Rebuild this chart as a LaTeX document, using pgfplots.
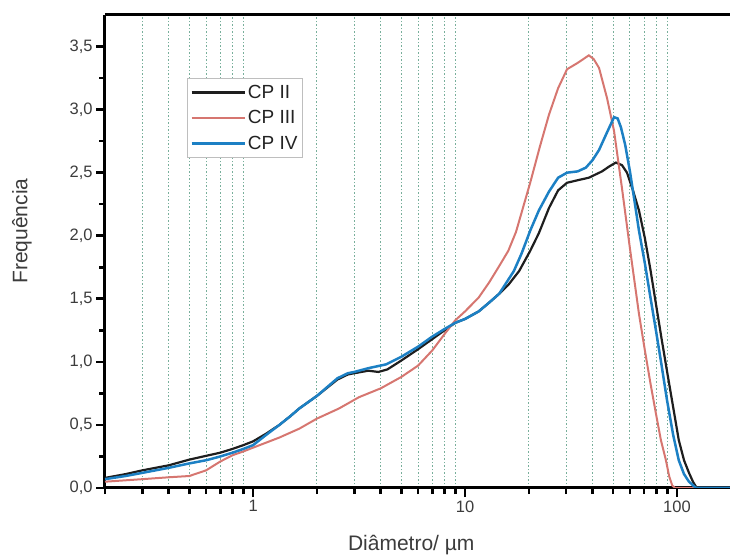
\documentclass[border=0pt]{standalone}
\usepackage{fontspec}
\setmainfont{Liberation Sans}
\usepackage{pgfplots}
\pgfplotsset{compat=1.18}

\definecolor{cpii}{RGB}{30,30,30}
\definecolor{cpiii}{RGB}{214,118,112}
\definecolor{cpiv}{RGB}{28,128,196}
\definecolor{gridgreen}{RGB}{120,175,155}
\definecolor{labelgray}{RGB}{60,60,60}
\definecolor{legendtext}{RGB}{35,35,35}
\definecolor{legendframe}{RGB}{190,190,190}

\begin{document}
\begin{tikzpicture}[x=1pt,y=1pt]
\useasboundingbox (0,0) rectangle (730,556);
\begin{axis}[
  at={(105pt,68pt)}, anchor=south west,
  scale only axis, width=625pt, height=473pt,
  xmode=log, xmin=0.2, xmax=178, ymin=0, ymax=3.75,
  axis y line*=left, axis x line*=box,
  axis line style={line width=3pt, black},
  every outer x axis line/.append style={line width=3pt, black},
  every outer y axis line/.append style={line width=3pt, black},
  xtick pos=bottom, ytick pos=left, tick align=outside,
  major tick length=9pt, minor tick length=6pt,
  tick style={black, line width=2.6pt},
  xtick={1,10,100}, xticklabels={1,10,100},
  minor xtick={0.2,0.3,0.4,0.5,0.6,0.7,0.8,0.9,2,3,4,5,6,7,8,9,20,30,40,50,60,70,80,90},
  xminorgrids=true, xmajorgrids=false, ymajorgrids=false,
  minor x grid style={gridgreen, line width=0.9pt, dash pattern=on 1.5pt off 2pt},
  ytick={0,0.5,1,1.5,2,2.5,3,3.5}, minor y tick num=1,
  /pgf/number format/assume math mode=true,
  yticklabel style={/pgf/number format/.cd, fixed, fixed zerofill, precision=1, use comma},
  ticklabel style={font=\fontsize{16.5}{18}\selectfont, text=labelgray},
  xlabel={Diâmetro/ µm}, ylabel={Frequência},
  label style={font=\fontsize{21}{24}\selectfont, text=labelgray},
  xlabel style={at={(axis description cs:0.49,0)}, anchor=center, yshift=-57pt},
  ylabel style={at={(axis description cs:-0.133,0.543)}, anchor=center},
  legend style={at={(axis description cs:0.131,0.867)}, anchor=north west,
    draw=legendframe, line width=0.8pt, fill=white,
    font=\fontsize{19}{21}\selectfont, text=legendtext,
    inner xsep=3pt, inner ysep=5pt, row sep=6.5pt},
  legend cell align=left,
  legend image code/.code={\draw[#1, line width=2.6pt] (0pt,0pt) -- (53pt,0pt);},
  % bold outward tick marks on the left and bottom edges
  after end axis/.code={
    \foreach \v in {0,0.5,1,1.5,2,2.5,3,3.5}
      {\draw[black, line width=2.6pt] (axis cs:0.2,\v) -- ++(-9pt,0pt);}
    \foreach \v in {0.25,0.75,1.25,1.75,2.25,2.75,3.25}
      {\draw[black, line width=2.6pt] (axis cs:0.2,\v) -- ++(-6pt,0pt);}
    \foreach \v in {1,10,100}
      {\draw[black, line width=2.6pt] (axis cs:\v,0) -- ++(0pt,-9pt);}
    \foreach \v in {0.2,0.3,0.4,0.5,0.6,0.7,0.8,0.9,2,3,4,5,6,7,8,9,20,30,40,50,60,70,80,90}
      {\draw[black, line width=2.6pt] (axis cs:\v,0) -- ++(0pt,-6pt);}
  },
]
\addplot[cpii, line width=2.2pt] coordinates {
(0.2,0.08)(0.25,0.11)(0.3,0.14)(0.4,0.18)(0.5,0.225)(0.6,0.255)(0.7,0.28)(0.8,0.31)
(0.9,0.34)(1.0,0.37)(1.15,0.43)(1.33,0.50)(1.5,0.57)(1.65,0.63)(2.0,0.73)(2.5,0.86)
(2.8,0.90)(3.0,0.91)(3.5,0.93)(3.9,0.92)(4.3,0.94)(5,1.01)(6,1.10)(7,1.18)(8,1.25)
(9,1.31)(10,1.34)(11.6,1.40)(13,1.47)(14.5,1.54)(16,1.61)(18,1.72)(20.3,1.88)
(22.3,2.02)(24.9,2.22)(27.5,2.36)(30.3,2.42)(34,2.44)(38.4,2.46)(44.3,2.51)(48,2.55)
(51.5,2.58)(55,2.56)(58.1,2.50)(62,2.36)(66.2,2.20)(70.6,1.98)(75,1.73)(79.6,1.46)
(84.5,1.19)(89.7,0.93)(96,0.64)(102,0.38)(108,0.22)(114,0.12)(119,0.05)(124,0)(178,0)
};
\addlegendentry{CP II}
\addplot[cpiii, line width=2pt] coordinates {
(0.2,0.05)(0.3,0.07)(0.4,0.085)(0.5,0.095)(0.6,0.14)(0.7,0.21)(0.8,0.26)(0.9,0.29)
(1.0,0.32)(1.33,0.40)(1.65,0.47)(2.0,0.55)(2.54,0.63)(3.16,0.72)(4,0.79)(5,0.88)
(6,0.97)(7,1.09)(8,1.22)(9,1.33)(10,1.40)(11.6,1.51)(13,1.63)(14.5,1.76)(16,1.88)
(17.4,2.03)(20.3,2.42)(22.5,2.70)(24.9,2.96)(27.5,3.17)(30.3,3.32)(34,3.37)(38.4,3.43)
(40.5,3.40)(42.9,3.33)(46.8,3.09)(50.5,2.83)(55,2.38)(60,1.90)(66.2,1.38)(70.6,1.09)
(75,0.83)(79.6,0.59)(84,0.38)(88.7,0.22)(92,0.09)(95,0.02)(98,0)(178,0)
};
\addlegendentry{CP III}
\addplot[cpiv, line width=2.5pt] coordinates {
(0.2,0.07)(0.25,0.095)(0.3,0.12)(0.4,0.16)(0.5,0.195)(0.6,0.22)(0.7,0.25)(0.8,0.28)
(0.9,0.31)(1.0,0.34)(1.15,0.42)(1.33,0.50)(1.5,0.57)(1.65,0.63)(2.0,0.73)(2.5,0.87)
(2.8,0.91)(3.0,0.92)(3.5,0.95)(4.24,0.98)(5,1.04)(6,1.12)(7,1.20)(8,1.26)(9,1.31)
(10,1.34)(11.6,1.40)(13,1.47)(14.5,1.54)(17,1.72)(18.5,1.86)(20.3,2.04)(22.3,2.20)
(24.9,2.35)(27.5,2.46)(30.3,2.50)(34,2.51)(37.2,2.54)(40,2.60)(42.9,2.68)(46.8,2.82)
(50.5,2.94)(52.5,2.93)(54.4,2.86)(57,2.72)(60,2.51)(63,2.28)(66.2,2.04)(70.6,1.78)
(75,1.51)(79.6,1.25)(84.5,0.98)(89.7,0.70)(96,0.42)(102,0.22)(108,0.11)(114,0.05)
(123,0)(178,0)
};
\addlegendentry{CP IV}
\end{axis}
\end{tikzpicture}
\end{document}
